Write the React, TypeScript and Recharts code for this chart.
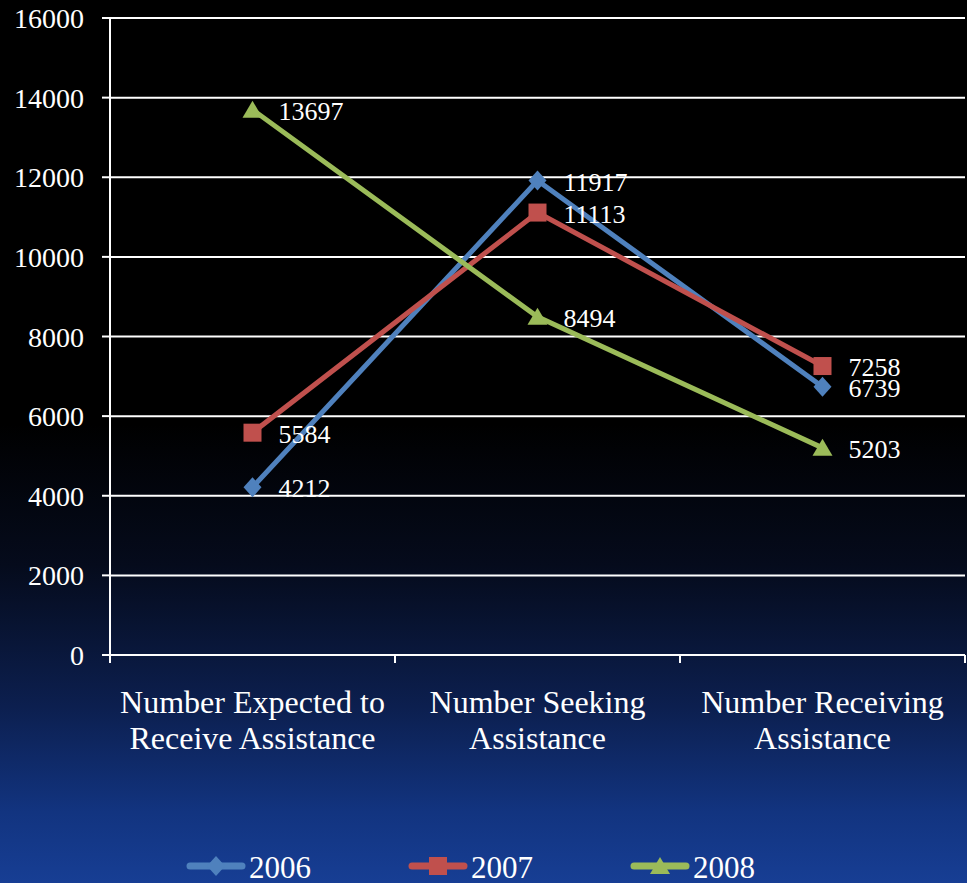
import React from 'react';
import { LineChart, Line, XAxis, YAxis, CartesianGrid, Legend, LabelList } from 'recharts';

const categories = [
    'Number Expected to\nReceive Assistance',
    'Number Seeking\nAssistance',
    'Number Receiving\nAssistance',
];
const values2006 = [4212, 11917, 6739];
const values2007 = [5584, 11113, 7258];
const values2008 = [13697, 8494, 5203];
const yTicks = [0, 2000, 4000, 6000, 8000, 10000, 12000, 14000, 16000];
const seriesNames = ['2006', '2007', '2008'];

const BLUE = '#4f81bd';
const RED = '#c0504d';
const GREEN = '#9bbb59';
const FONT = '"Liberation Serif", "Times New Roman", serif';

const data = categories.map((category, i) => ({
    category,
    y2006: values2006[i],
    y2007: values2007[i],
    y2008: values2008[i],
}));

const WIDTH = 967;
const HEIGHT = 883;
const LEFT = 110;
const RIGHT = 2;
const bandWidth = (WIDTH - LEFT - RIGHT) / categories.length;

type Shape = 'diamond' | 'square' | 'triangle';

const marker = (shape: Shape, cx: number, cy: number, color: string, key?: React.Key) => {
    if (shape === 'diamond') {
        return <polygon key={key} points={`${cx},${cy - 10} ${cx + 9},${cy} ${cx},${cy + 10} ${cx - 9},${cy}`} fill={color} />;
    }
    if (shape === 'square') {
        return <rect key={key} x={cx - 9} y={cy - 9} width={18} height={18} fill={color} />;
    }
    return <polygon key={key} points={`${cx},${cy - 9} ${cx + 10},${cy + 8} ${cx - 10},${cy + 8}`} fill={color} />;
};

const makeDot = (shape: Shape, color: string) => (props: any) => {
    const { cx, cy, index } = props;
    if (cx == null || cy == null) return <g key={index} />;
    return marker(shape, cx, cy, color, index);
};

const renderLabel = (props: any) => {
    const { x, y, value } = props;
    return (
        <text x={x + 26} y={y + 10} fill="#fff" fontSize={26} style={{ fontFamily: FONT }}>
            {value}
        </text>
    );
};

const ValueTick = (props: any) => {
    const { x, y, payload } = props;
    return (
        <text x={x} y={y} dy={10} textAnchor="end" fill="#fff" fontSize={28} style={{ fontFamily: FONT }}>
            {payload.value}
        </text>
    );
};

const CategoryTick = (props: any) => {
    const { x, y, payload, index } = props;
    const lines: string[] = String(payload.value).split('\n');
    const left = x - bandWidth / 2;
    return (
        <g>
            <line x1={left} y1={y} x2={left} y2={y + 8} stroke="#fff" strokeWidth={2} />
            {index === categories.length - 1 && (
                <line x1={x + bandWidth / 2} y1={y} x2={x + bandWidth / 2} y2={y + 8} stroke="#fff" strokeWidth={2} />
            )}
            <text x={x} y={y} textAnchor="middle" fill="#fff" fontSize={32} style={{ fontFamily: FONT }}>
                {lines.map((l, i) => (
                    <tspan key={i} x={x} y={y + 58 + i * 36}>
                        {l}
                    </tspan>
                ))}
            </text>
        </g>
    );
};

const legendItems: { name: string; color: string; shape: Shape }[] = [
    { name: seriesNames[0], color: BLUE, shape: 'diamond' },
    { name: seriesNames[1], color: RED, shape: 'square' },
    { name: seriesNames[2], color: GREEN, shape: 'triangle' },
];

const renderLegend = () => (
    <svg width={WIDTH} height={50} style={{ display: 'block' }}>
        {legendItems.map((item, i) => {
            const x0 = 187 + i * 222;
            return (
                <g key={item.name}>
                    <line x1={x0 + 3} y1={33} x2={x0 + 55} y2={33} stroke={item.color} strokeWidth={7} strokeLinecap="round" />
                    {marker(item.shape, x0 + 29, 33, item.color)}
                    <text x={x0 + 62} y={45} fill="#fff" fontSize={31} style={{ fontFamily: FONT }}>
                        {item.name}
                    </text>
                </g>
            );
        })}
    </svg>
);

const App: React.FC = () => {
    return (
        <div
            style={{
                position: 'absolute',
                left: 0,
                top: 0,
                width: WIDTH,
                height: HEIGHT,
                overflow: 'hidden',
                fontFamily: FONT,
                background:
                    'linear-gradient(to bottom, #000000 0%, #000000 48%, #050b1c 64%, #0c1f4f 80%, #123480 92%, #173e94 100%)',
            }}
        >
            <LineChart
                width={WIDTH}
                height={HEIGHT}
                data={data}
                margin={{ top: 18, right: RIGHT, left: 0, bottom: 0 }}
            >
                <CartesianGrid vertical={false} stroke="#ffffff" strokeWidth={2} />
                <XAxis
                    dataKey="category"
                    height={178}
                    padding={{ left: bandWidth / 2, right: bandWidth / 2 }}
                    axisLine={{ stroke: '#ffffff', strokeWidth: 2 }}
                    tickLine={false}
                    tickSize={0}
                    tickMargin={0}
                    interval={0}
                    tick={<CategoryTick />}
                />
                <YAxis
                    width={LEFT}
                    domain={[0, 16000]}
                    ticks={yTicks}
                    interval={0}
                    axisLine={{ stroke: '#ffffff', strokeWidth: 2 }}
                    tickLine={{ stroke: '#ffffff', strokeWidth: 2 }}
                    tickSize={8}
                    tickMargin={18}
                    tick={<ValueTick />}
                />
                <Legend
                    verticalAlign="bottom"
                    content={renderLegend}
                    wrapperStyle={{ left: 0, bottom: 0, width: WIDTH, height: 50 }}
                />
                <Line
                    dataKey="y2006"
                    name={seriesNames[0]}
                    stroke={BLUE}
                    strokeWidth={5}
                    dot={makeDot('diamond', BLUE)}
                    activeDot={false}
                    isAnimationActive={false}
                >
                    <LabelList dataKey="y2006" content={renderLabel} />
                </Line>
                <Line
                    dataKey="y2007"
                    name={seriesNames[1]}
                    stroke={RED}
                    strokeWidth={5}
                    dot={makeDot('square', RED)}
                    activeDot={false}
                    isAnimationActive={false}
                >
                    <LabelList dataKey="y2007" content={renderLabel} />
                </Line>
                <Line
                    dataKey="y2008"
                    name={seriesNames[2]}
                    stroke={GREEN}
                    strokeWidth={5}
                    dot={makeDot('triangle', GREEN)}
                    activeDot={false}
                    isAnimationActive={false}
                >
                    <LabelList dataKey="y2008" content={renderLabel} />
                </Line>
            </LineChart>
        </div>
    );
};

export default App;
